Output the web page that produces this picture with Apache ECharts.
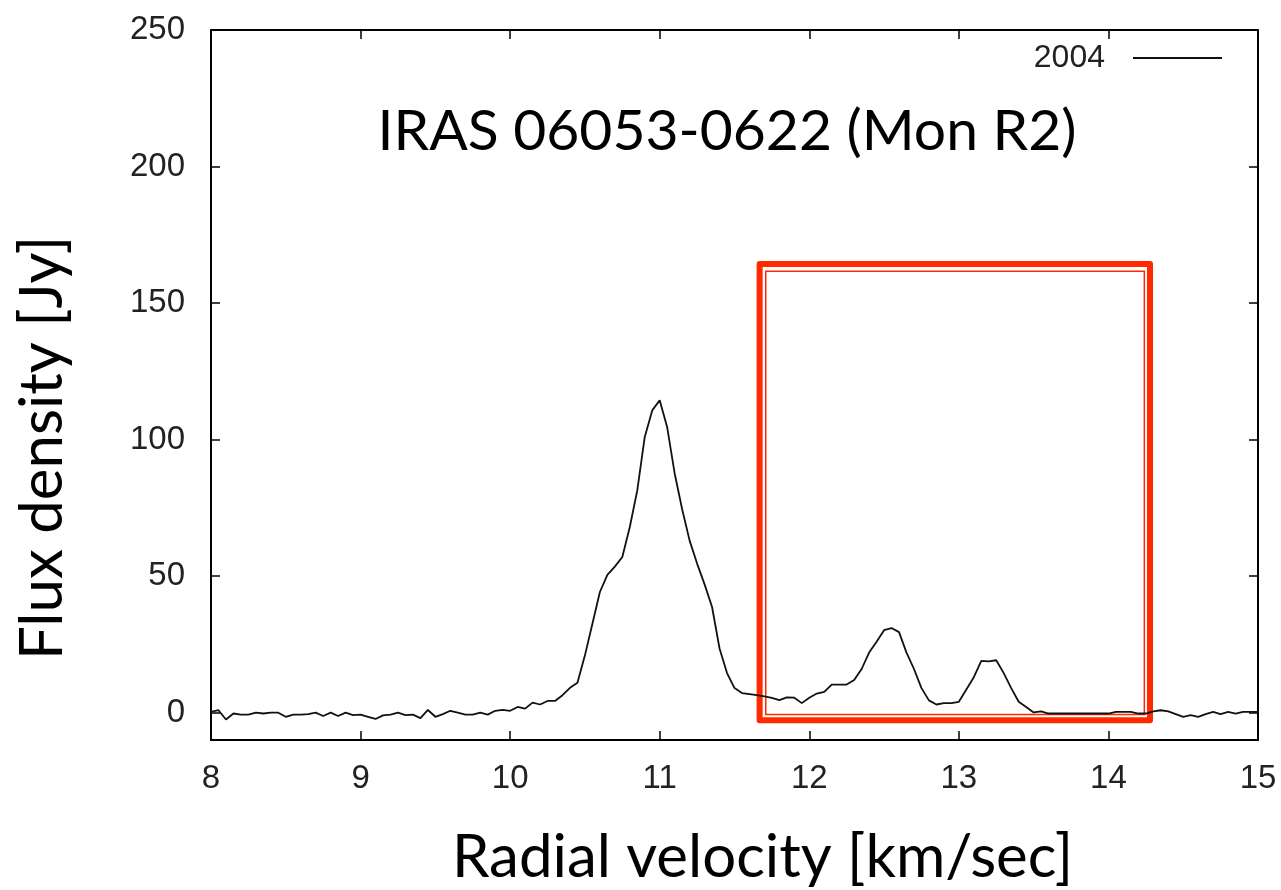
<!DOCTYPE html>
<html>
<head>
<meta charset="utf-8">
<script src="https://cdn.jsdelivr.net/npm/echarts@6/dist/echarts.min.js"></script>
<style>
html,body{margin:0;padding:0;background:#fff;}
#chart{width:1281px;height:890px;}
</style>
</head>
<body>
<div id="chart"></div>
<script>
// Radial velocity channels [km/s]
const velocity = [
  8.00, 8.05, 8.10, 8.15, 8.20, 8.25, 8.30, 8.35, 8.40, 8.45,
  8.50, 8.55, 8.60, 8.65, 8.70, 8.75, 8.80, 8.85, 8.90, 8.95,
  9.00, 9.05, 9.10, 9.15, 9.20, 9.25, 9.30, 9.35, 9.40, 9.45,
  9.50, 9.55, 9.60, 9.65, 9.70, 9.75, 9.80, 9.85, 9.90, 9.95,
  10.00, 10.05, 10.10, 10.15, 10.20, 10.25, 10.30, 10.35, 10.40, 10.45,
  10.50, 10.55, 10.60, 10.65, 10.70, 10.75, 10.80, 10.85, 10.90, 10.95,
  11.00, 11.05, 11.10, 11.15, 11.20, 11.25, 11.30, 11.35, 11.40, 11.45,
  11.50, 11.55, 11.60, 11.65, 11.70, 11.75, 11.80, 11.85, 11.90, 11.95,
  12.00, 12.05, 12.10, 12.15, 12.20, 12.25, 12.30, 12.35, 12.40, 12.45,
  12.50, 12.55, 12.60, 12.65, 12.70, 12.75, 12.80, 12.85, 12.90, 12.95,
  13.00, 13.05, 13.10, 13.15, 13.20, 13.25, 13.30, 13.35, 13.40, 13.45,
  13.50, 13.55, 13.60, 13.65, 13.70, 13.75, 13.80, 13.85, 13.90, 13.95,
  14.00, 14.05, 14.10, 14.15, 14.20, 14.25, 14.30, 14.35, 14.40, 14.45,
  14.50, 14.55, 14.60, 14.65, 14.70, 14.75, 14.80, 14.85, 14.90, 14.95,
  15.00
];
// Flux density [Jy], 2004 spectrum
const flux2004 = [
  0.3, 0.9, -2.5, -0.3, -0.7, -0.7, 0, -0.3, 0, 0,
  -1.5, -0.7, -0.7, -0.5, 0, -1.2, 0, -1.2, 0, -0.9,
  -0.7, -1.5, -2.3, -1.0, -0.7, 0, -0.9, -0.7, -2.0, 1.0,
  -1.5, -0.5, 0.7, 0, -0.7, -0.7, 0, -0.7, 0.7, 1.0,
  0.7, 2.1, 1.5, 3.7, 3.0, 4.3, 4.3, 6.4, 9.1, 11.0,
  21.0, 32.6, 44.2, 50.5, 53.5, 57.0, 68.0, 81.4, 101.0, 110.7,
  114.4, 104.5, 87.6, 74.5, 63.0, 54.6, 47.0, 38.7, 23.5, 14.5,
  9.0, 7.2, 6.8, 6.4, 6.0, 5.4, 4.6, 5.6, 5.5, 3.5,
  5.5, 7.0, 7.6, 10.3, 10.3, 10.3, 12.0, 16.0, 22.0, 26.0,
  30.2, 31.0, 29.5, 22.0, 16.0, 9.0, 4.5, 3.0, 3.5, 3.5,
  4.0, 8.5, 13.0, 19.0, 18.8, 19.2, 14.5, 9.0, 4.0, 2.1,
  0.1, 0.5, -0.3, -0.3, -0.3, -0.3, -0.3, -0.3, -0.3, -0.3,
  -0.3, 0.3, 0.3, 0.3, -0.3, -0.3, 0.5, 0.9, 0.5, -0.5,
  -1.5, -0.9, -1.5, -0.5, 0.3, -0.5, 0.3, -0.3, 0.3, 0.3,
  0.3
];
const seriesName = '2004';
const yTicks = [0, 50, 100, 150, 200, 250];
// Highlight box (data coordinates): [x1, y1, x2, y2]
const boxOuter = [11.668, 164.3, 14.278, -2.75];
const boxInner = [11.709, 161.7, 14.240, -0.66];

const chart = echarts.init(document.getElementById('chart'));
const tickFont = 'Liberation Sans';
const titleFont = 'Lato';

const option = {
  backgroundColor: '#ffffff',
  animation: false,
  title: {
    text: 'IRAS 06053-0622 (Mon R2)',
    left: 722,
    top: 98,
    textAlign: 'center',
    textStyle: { fontFamily: titleFont, fontSize: 57, fontWeight: 'normal', color: '#000' }
  },
  legend: {
    data: [{ name: seriesName, icon: 'rect' }],
    right: 54,
    top: 37,
    align: 'right',
    itemWidth: 89,
    itemHeight: 2,
    textStyle: { fontFamily: tickFont, fontSize: 32, color: '#222', padding: [0, 23, 0, 0] }
  },
  grid: { left: 211, right: 23, top: 30, bottom: 150, containLabel: false, outerBoundsMode: 'none' },
  xAxis: [{
    type: 'value', min: 8, max: 15, interval: 1, position: 'bottom',
    name: 'Radial velocity [km/sec]', nameLocation: 'middle', nameGap: 88,
    nameTextStyle: { fontFamily: titleFont, fontSize: 60, color: '#000', padding: [0, 0, 0, 56] },
    axisLine: { show: true, onZero: false, lineStyle: { color: '#000', width: 2 } },
    axisTick: { show: true, inside: true, length: 9, lineStyle: { color: '#000', width: 1.5 } },
    axisLabel: { fontFamily: tickFont, fontSize: 33, color: '#222', margin: 22 },
    splitLine: { show: false }
  }, {
    type: 'value', min: 8, max: 15, interval: 1, position: 'top',
    axisLine: { show: true, onZero: false, lineStyle: { color: '#000', width: 2 } },
    axisTick: { show: true, inside: true, length: 9, lineStyle: { color: '#000', width: 1.5 } },
    axisLabel: { show: false },
    splitLine: { show: false }
  }],
  yAxis: [{
    type: 'value', min: -10, max: 250, position: 'left',
    name: 'Flux density [Jy]', nameLocation: 'middle', nameGap: 138, nameRotate: 90,
    nameTextStyle: { fontFamily: titleFont, fontSize: 60, color: '#000', padding: [0, 126, 0, 0] },
    axisLine: { show: true, onZero: false, lineStyle: { color: '#000', width: 2 } },
    axisTick: { show: true, inside: true, length: 9, customValues: yTicks, lineStyle: { color: '#000', width: 1.5 } },
    axisLabel: { fontFamily: tickFont, fontSize: 33, color: '#222', margin: 26, customValues: yTicks },
    splitLine: { show: false }
  }, {
    type: 'value', min: -10, max: 250, position: 'right',
    axisLine: { show: true, onZero: false, lineStyle: { color: '#000', width: 2 } },
    axisTick: { show: true, inside: true, length: 9, customValues: yTicks, lineStyle: { color: '#000', width: 1.5 } },
    axisLabel: { show: false, customValues: yTicks },
    splitLine: { show: false }
  }],
  series: [{
    name: seriesName,
    type: 'line',
    xAxisIndex: 0,
    yAxisIndex: 0,
    symbol: 'none',
    data: velocity.map((v, i) => [v, flux2004[i]]),
    lineStyle: { color: '#111', width: 1.8 },
    itemStyle: { color: '#111' },
    z: 3,
    markArea: {
      silent: true,
      data: [
        [
          { coord: [boxOuter[0], boxOuter[1]], itemStyle: { color: 'rgba(0,0,0,0)', borderColor: '#ff2a00', borderWidth: 6, borderJoin: 'round' } },
          { coord: [boxOuter[2], boxOuter[3]] }
        ],
        [
          { coord: [boxInner[0], boxInner[1]], itemStyle: { color: 'rgba(0,0,0,0)', borderColor: '#ff2a00', borderWidth: 1.5 } },
          { coord: [boxInner[2], boxInner[3]] }
        ]
      ]
    }
  }]
};
chart.setOption(option);
</script>
</body>
</html>
